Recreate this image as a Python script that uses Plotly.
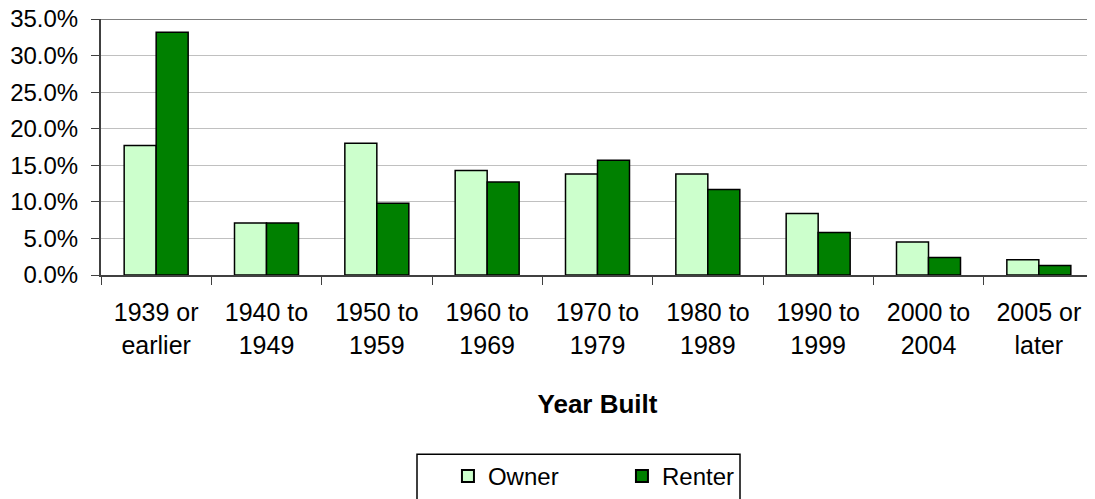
import plotly.graph_objects as go

categories = ["1939 or<br>earlier", "1940 to<br>1949", "1950 to<br>1959", "1960 to<br>1969",
              "1970 to<br>1979", "1980 to<br>1989", "1990 to<br>1999", "2000 to<br>2004",
              "2005 or<br>later"]
owner = [17.7, 7.1, 18.0, 14.3, 13.8, 13.8, 8.4, 4.5, 2.1]
renter = [33.2, 7.1, 9.8, 12.7, 15.7, 11.7, 5.8, 2.4, 1.3]

FONT = "Liberation Sans, Arial, sans-serif"

fig = go.Figure()
fig.add_trace(go.Bar(x=categories, y=owner, name="Owner",
                     marker=dict(color="#CCFFCC", line=dict(color="black", width=1.5))))
fig.add_trace(go.Bar(x=categories, y=renter, name="Renter",
                     marker=dict(color="#008000", line=dict(color="black", width=1.5))))

# page body has an 8px default margin, so the figure is sized/offset to compensate
fig.update_layout(
    width=1087, height=491,
    margin=dict(l=93, r=1, t=11, b=223),
    paper_bgcolor="white", plot_bgcolor="white",
    barmode="group", bargap=0.42, bargroupgap=0,
    font=dict(family=FONT, color="black", size=24),
    showlegend=True,
    legend=dict(orientation="h", x=0.3494, xanchor="left", y=-0.6965, yanchor="top",
                borderwidth=0, font=dict(size=24), bgcolor="rgba(0,0,0,0)",
                entrywidth=129, entrywidthmode="pixels", itemsizing="constant"),
    xaxis=dict(showline=True, linecolor="#404040", linewidth=2, ticks="outside",
               tickson="boundaries", ticklen=8, tickcolor="#404040", tickfont=dict(size=25),
               ticklabelstandoff=14, automargin=False, ticklabeloverflow="allow",
               title=dict(text="<b>Year Built</b>", font=dict(size=26), standoff=37)),
    yaxis=dict(range=[0, 35], dtick=5, tickformat=".1f", ticksuffix="%",
               showline=True, linecolor="#404040", linewidth=2, ticks="outside",
               ticklen=8, tickcolor="#404040", gridcolor="#C0C0C0", gridwidth=1,
               zeroline=False, tickfont=dict(size=24), ticklabelstandoff=8,
               automargin=False, ticklabeloverflow="allow"),
)
fig.add_shape(type="line", xref="paper", yref="y", x0=0, x1=1, y0=35, y1=35,
              line=dict(color="#808080", width=2))
# legend frame
fig.add_shape(type="rect", xref="paper", yref="paper",
              x0=(417 - 101) / 993, x1=(740 - 101) / 993,
              y0=(276 - 456) / 257, y1=(276 - 530) / 257,
              line=dict(color="black", width=1.5), fillcolor="rgba(0,0,0,0)")

fig.write_html("out.html")
